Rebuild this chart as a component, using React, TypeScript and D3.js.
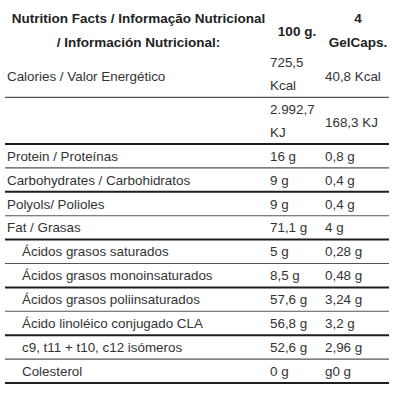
import React from "react";
import * as d3 from "d3";

const headerTitle = ["Nutrition Facts / Informação Nutricional", "/ Información Nutricional:"];
const headerCol2 = ["100 g."];
const headerCol3 = ["4", "GelCaps."];

const energyLabels = ["Calories / Valor Energético", ""];
const energyPer100 = [["725,5", "Kcal"], ["2.992,7", "KJ"]];
const energyPerServing = ["40,8 Kcal", "168,3 KJ"];

const nutrientLabels = [
  "Protein / Proteínas",
  "Carbohydrates / Carbohidratos",
  "Polyols/ Polioles",
  "Fat / Grasas",
  "Ácidos grasos saturados",
  "Ácidos grasos monoinsaturados",
  "Ácidos grasos poliinsaturados",
  "Ácido linoléico conjugado CLA",
  "c9, t11 + t10, c12 isómeros",
  "Colesterol",
];
const nutrientPer100 = ["16 g", "9 g", "9 g", "71,1 g", "5 g", "8,5 g", "57,6 g", "56,8 g", "52,6 g", "0 g"];
const nutrientPerServing = ["0,8 g", "0,4 g", "0,4 g", "4 g", "0,28 g", "0,48 g", "3,24 g", "3,2 g", "2,96 g", "g0 g"];
const nutrientIndent = [false, false, false, false, true, true, true, true, true, true];

const W = 400;
const H = 400;
const FONT = "'Liberation Sans', Arial, Helvetica, sans-serif";

export default function App() {
  const energyY = d3
    .scaleBand<number>()
    .domain(d3.range(energyLabels.length))
    .range([50.7, 144])
    .padding(0);
  const bodyY = d3
    .scaleBand<number>()
    .domain(d3.range(nutrientLabels.length))
    .range([144, 383])
    .padding(0);
  const x = d3.scaleLinear().domain([0, 1]).range([5, 389]);
  const col2 = 270;
  const col3 = 325;
  const indentX = 22;
  const labelX = 7;

  // rules: after each row, alternating thin/thick
  const rules: { y: number; thick: boolean }[] = [];
  energyLabels.forEach((_, i) => rules.push({ y: energyY(i)! + energyY.bandwidth(), thick: i % 2 === 1 }));
  nutrientLabels.forEach((_, i) => rules.push({ y: bodyY(i)! + bodyY.bandwidth(), thick: (i + energyLabels.length) % 2 === 1 }));

  const textColor = "#333";

  return (
    <svg
      width={W}
      height={H}
      style={{ position: "absolute", left: 0, top: 0, background: "#fff" }}
      fontFamily={FONT}
    >
      <rect width={W} height={H} fill="#fff" />
      {/* header */}
      <g fontWeight="bold" fontSize={13.5} fill="#222">
        {headerTitle.map((t, i) => (
          <text key={t} x={138.5} y={22.5 + i * 24} textAnchor="middle">
            {t}
          </text>
        ))}
        {headerCol2.map((t) => (
          <text key={t} x={297} y={35.7} textAnchor="middle">
            {t}
          </text>
        ))}
        {headerCol3.map((t, i) => (
          <text key={t} x={358} y={22.5 + i * 24} textAnchor="middle">
            {t}
          </text>
        ))}
      </g>

      {/* energy rows */}
      <g fontSize={13.4} fill={textColor}>
        {energyLabels.map((lab, i) => {
          const top = energyY(i)!;
          return (
            <g key={"e" + i}>
              {lab && (
                <text x={labelX} y={top + 29.8}>
                  {lab}
                </text>
              )}
              {energyPer100[i].map((v, j) => (
                <text key={v} x={col2} y={top + 16.6 + j * 22.9}>
                  {v}
                </text>
              ))}
              <text x={col3} y={top + 29.8}>
                {energyPerServing[i]}
              </text>
            </g>
          );
        })}
      </g>

      {/* nutrient rows */}
      <g fontSize={13.4} fill={textColor}>
        {nutrientLabels.map((lab, i) => {
          const top = bodyY(i)!;
          const base = top + 16.7;
          return (
            <g key={"n" + i}>
              <text x={nutrientIndent[i] ? indentX : labelX} y={base}>
                {lab}
              </text>
              <text x={col2} y={base}>
                {nutrientPer100[i]}
              </text>
              <text x={col3} y={base}>
                {nutrientPerServing[i]}
              </text>
            </g>
          );
        })}
      </g>

      {/* rules */}
      {rules.map((r, i) => (
        <line
          key={"r" + i}
          x1={x(0)}
          x2={x(1)}
          y1={r.y}
          y2={r.y}
          stroke={r.thick ? "#1e1e1e" : "#555"}
          strokeWidth={r.thick ? 2 : 1.1}
        />
      ))}
    </svg>
  );
}
